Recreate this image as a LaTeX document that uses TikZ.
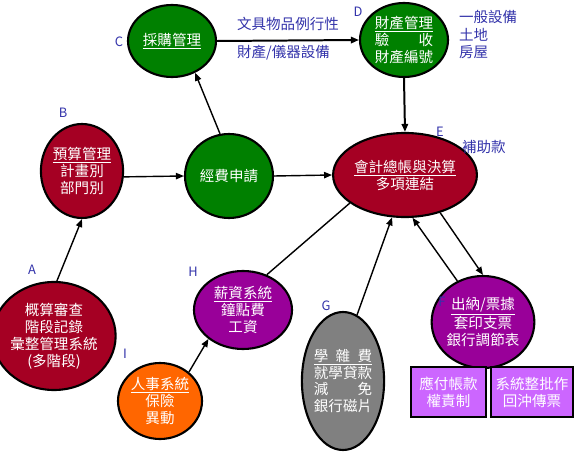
\documentclass[tikz,border=0pt]{standalone}
\usepackage{fontspec}
\setmainfont{Noto Sans CJK TC}
\usepackage{tikz}
\usetikzlibrary{arrows.meta,shapes.geometric,positioning}
\definecolor{procgreen}{RGB}{0,128,0}
\definecolor{procred}{RGB}{165,0,35}
\definecolor{procpurple}{RGB}{153,0,153}
\definecolor{procorange}{RGB}{255,102,0}
\definecolor{procgray}{RGB}{128,128,128}
\definecolor{boxlilac}{RGB}{204,102,255}
\definecolor{tagblue}{RGB}{51,51,170}
\tikzset{
    % Basic process ellipse
    proc/.style={
        ellipse, draw=black, line width=1.8pt, inner sep=0pt,
        align=center, text=white, font=\fontsize{12.4}{14.5}\selectfont
    },
    % Colored variants
    greenproc/.style={proc, fill=procgreen},
    redproc/.style={proc, fill=procred},
    purpleproc/.style={proc, fill=procpurple},
    orangeproc/.style={proc, fill=procorange},
    grayproc/.style={proc, fill=procgray},
    % Sub boxes under the cashier node
    subbox/.style={
        rectangle, draw=black, line width=1.8pt, fill=boxlilac,
        inner sep=0pt, align=center, text=white,
        font=\fontsize{12.4}{14.5}\selectfont
    },
    % Letters and side notes
    tag/.style={text=tagblue, font=\fontsize{11}{13}\selectfont},
    note/.style={text=tagblue, font=\fontsize{12.4}{14.5}\selectfont, anchor=west},
}
\tikzset{
    arc/.style={-{Triangle[length=2.4mm,width=1.9mm]}, line width=1.2pt},
    thickarc/.style={arc, line width=1.7pt},
    plainarc/.style={line width=1.2pt},
}
\newcommand{\spreadfour}[1]{\makebox[4em]{#1}}

\begin{document}
\begin{tikzpicture}[x=0.03cm,y=-0.03cm]
  \useasboundingbox (0,0) rectangle (583,452);
  \node[greenproc,minimum width=2.64cm,minimum height=2.16cm] (purchase) at (172,41) {\underline{採購管理}};
  \node[greenproc,minimum width=2.64cm,minimum height=2.22cm] (asset) at (404,40)
      {\underline{財產管理}\\\spreadfour{驗\hfill{}收}\\財產編號};
  \node[redproc,minimum width=2.16cm,minimum height=2.82cm] (budget) at (82,171)
      {\underline{預算管理}\\計畫別\\部門別};
  \node[greenproc,minimum width=2.64cm,minimum height=2.52cm] (apply) at (229,176) {經費申請};
  \node[redproc,minimum width=3.6cm,minimum height=2.52cm] (ledger) at (405,175)
      {\underline{會計總帳與決算}\\多項連結};
  \node[redproc,minimum width=2.94cm,minimum height=3.24cm] (estimate) at (54,336)
      {概算審查\\階段記錄\\彙整管理系統\\(多階段)};
  \node[purpleproc,minimum width=2.94cm,minimum height=2.34cm] (salary) at (243,310)
      {\underline{薪資系統}\\鐘點費\\工資};
  \node[orangeproc,minimum width=2.52cm,minimum height=2.28cm] (personnel) at (160,401)
      {\underline{人事系統}\\保險\\異動};
  \node[grayproc,minimum width=2.28cm,minimum height=4.14cm] (tuition) at (343,381)
      {\underline{\spreadfour{學\hfill{}雜\hfill{}費}}\\就學貸款\\\spreadfour{減\hfill{}免}\\銀行磁片};
  \node[purpleproc,minimum width=2.4cm,minimum height=2.76cm] (cashier) at (483,322)
      {\underline{出納/票據}\\套印支票\\銀行調節表};
  \node[subbox,minimum width=2.25cm,minimum height=1.5cm] (payable) at (448.5,392) {應付帳款\\權責制};
  \node[subbox,minimum width=2.46cm,minimum height=1.5cm] (batch) at (532,392) {系統整批作\\回沖傳票};

  % letters and side notes
  \foreach \n/\x/\y in {A/32/270,B/63/113,C/119/42,D/358/12,E/440/132,F/442/302,G/326/306,H/193/272,I/125/354}
    {\node[tag] (tag\n) at (\x,\y) {\n};}
  \node[note] (routine) at (233,24) {文具物品例行性};
  \node[note] (equip) at (233,53) {財產/儀器設備};
  \node[note] (general) at (455,17) {一般設備};
  \node[note] (land) at (455,35) {土地};
  \node[note] (house) at (455,52) {房屋};
  \node[note] (subsidy) at (458,147) {補助款};

  % flows
  \draw[arc] (estimate.87) -- (budget.-90);
  \draw[arc] (budget.-8) -- (apply.west);
  \draw[arc] (apply.102) -- (purchase.-54);
  \draw[thickarc] (purchase.east) -- (asset.west);
  \draw[thickarc] (asset.south) -- (ledger.north);
  \draw[arc] (apply.east) -- (ledger.west);
  \draw[plainarc] (salary.56) -- (ledger.-153);
  \draw[arc] (tuition.78) -- (ledger.-107);
  \draw[arc] (cashier.122) -- (ledger.-80);
  \draw[arc] (ledger.-47) -- (cashier.90);
  \draw[arc] (personnel.45) -- (salary.-140);
\end{tikzpicture}
\end{document}
